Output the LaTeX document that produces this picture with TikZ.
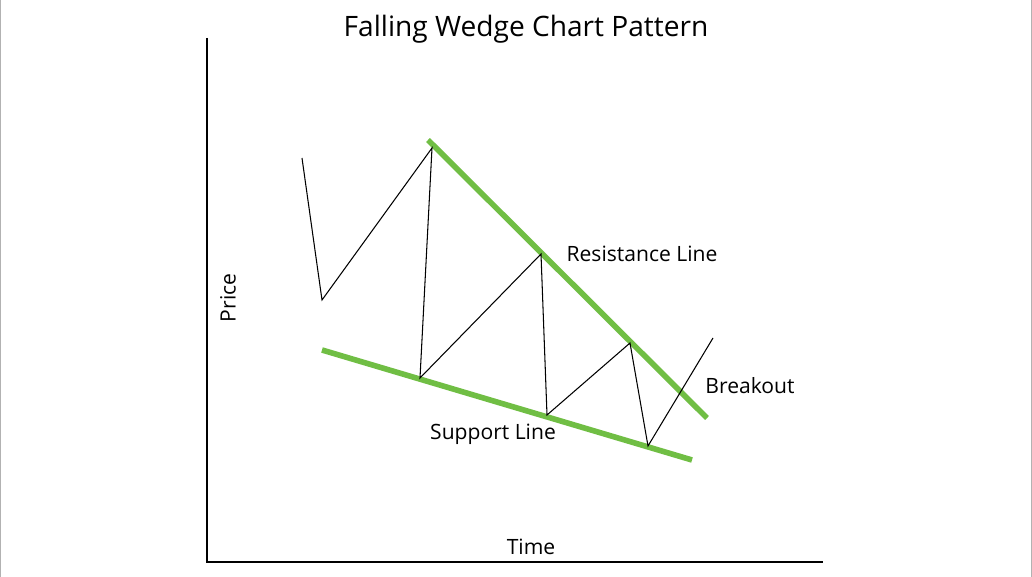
\documentclass[tikz,border=0pt]{standalone}
\usepackage{fontspec}
\setmainfont{Open Sans}
\definecolor{wgreen}{RGB}{112,190,68}
\begin{document}
\begin{tikzpicture}[x=0.02cm,y=-0.02cm,
  lbl/.style={font=\fontsize{12}{14}\selectfont},
  trend/.style={wgreen,line width=3.2pt},
  price/.style={black,line width=0.6pt}]
\useasboundingbox[fill=white] (0,0) rectangle (1032,577);
\draw[gray!60,line width=0.8pt] (0.5,0)--(0.5,577) (1031.5,0)--(1031.5,577);
\node[font=\fontsize{16}{20}\selectfont] (title) at (526,29) {Falling Wedge Chart Pattern};
\coordinate (ytop) at (207,38); \coordinate (orig) at (207,562); \coordinate (xend) at (823,562);
\draw[price] (ytop)--(orig)--(xend);
\coordinate (r1) at (428,140); \coordinate (r2) at (707,418);
\coordinate (s1) at (322,350); \coordinate (s2) at (692,460);
\draw[trend] (r1)--(r2);
\draw[trend] (s1)--(s2);
\draw[price] (302,158)--(322,300)--(432,148)--(420,378)--(541,254)--(547,415)--(630,343)--(648,446)--(713,338);
\node[lbl] (res) at (642,254) {Resistance Line};
\node[lbl] (brk) at (750,386) {Breakout};
\node[lbl] (sup) at (493,434) {Support Line};
\node[lbl,rotate=90] (pr) at (228,298) {Price};
\node[lbl] (tm) at (531,547) {Time};
\end{tikzpicture}
\end{document}
